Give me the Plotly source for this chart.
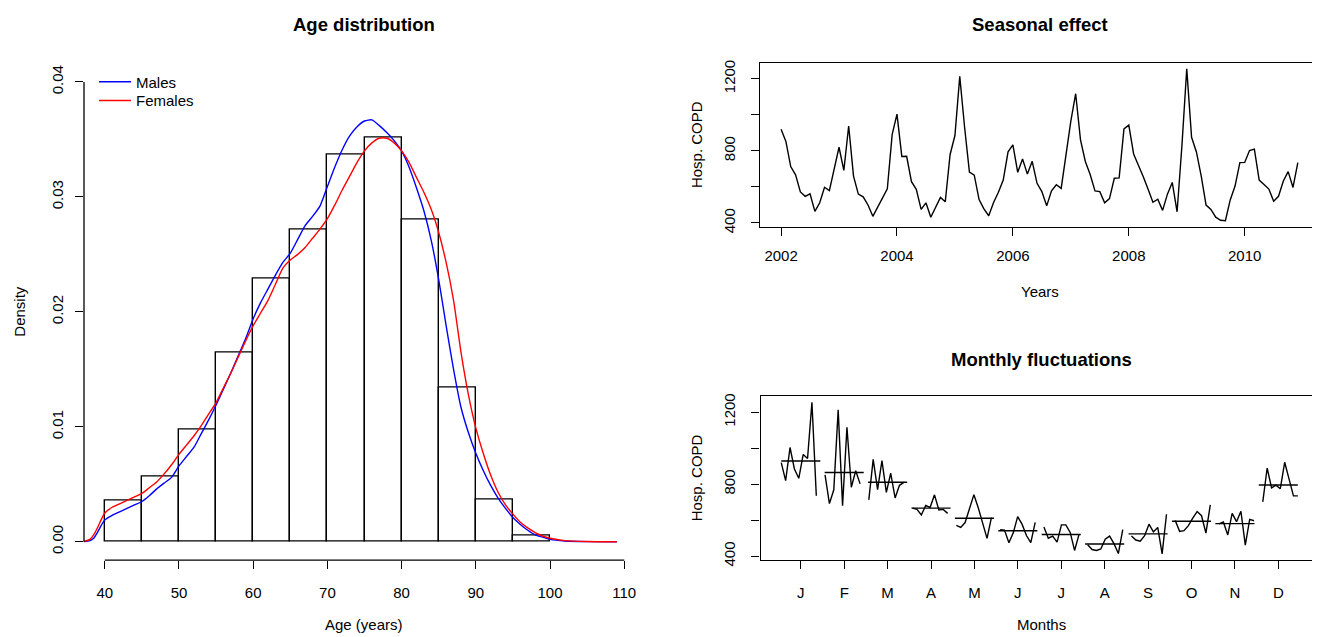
import plotly.graph_objects as go

# ---------------- Age distribution ----------------
bin_edges = [40, 45, 50, 55, 60, 65, 70, 75, 80, 85, 90, 95, 100]
bin_density = [0.0036, 0.0057, 0.0098, 0.0165, 0.0229, 0.0272,
               0.0337, 0.0352, 0.0280, 0.0134, 0.0037, 0.0005]

male_age = [37, 38, 38.5, 39, 39.5, 40, 41, 42, 43, 44, 45, 46, 47, 48, 49, 50,
            51, 52, 53, 54, 55, 56, 57, 58, 59, 60, 61, 62, 63, 64, 65, 66, 67,
            68, 69, 70, 71, 72, 73, 74, 75, 76, 77, 78, 79, 80, 81, 82, 83, 84,
            85, 86, 87, 88, 89, 90, 91, 92, 93, 94, 95, 96, 97, 98, 99, 100,
            102, 105, 109]
male_dens = [0, 0.0001, 0.0003, 0.0008, 0.0014, 0.0019, 0.0023, 0.0026, 0.0029,
             0.0032, 0.0035, 0.0040, 0.0046, 0.0051, 0.0056, 0.0066, 0.0074,
             0.0082, 0.0094, 0.0106, 0.0119, 0.0133, 0.0147, 0.0162, 0.0177,
             0.0194, 0.0208, 0.0220, 0.0232, 0.0243, 0.0251, 0.0263, 0.0275,
             0.0283, 0.0292, 0.0309, 0.0326, 0.0341, 0.0353, 0.0361, 0.0366,
             0.0367, 0.0362, 0.0356, 0.0349, 0.0340, 0.0326, 0.0308, 0.0288,
             0.0262, 0.0228, 0.0188, 0.0150, 0.0117, 0.0095, 0.0077, 0.0062,
             0.0049, 0.0038, 0.0029, 0.0021, 0.0015, 0.0010, 0.0006, 0.0004,
             0.0002, 0.00006, 0.00001, 0]

female_age = [37, 38, 38.5, 39, 39.5, 40, 41, 42, 43, 44, 45, 46, 47, 48, 49, 50,
              51, 52, 53, 54, 55, 56, 57, 58, 59, 60, 61, 62, 63, 64, 65, 66, 67,
              68, 69, 70, 71, 72, 73, 74, 75, 76, 77, 78, 79, 80, 81, 82, 83, 84,
              85, 86, 87, 88, 89, 90, 91, 92, 93, 94, 95, 96, 97, 98, 99, 100,
              102, 105, 109]
female_dens = [0, 0.0002, 0.0006, 0.0012, 0.0019, 0.0025, 0.0030, 0.0033, 0.0036,
               0.0039, 0.0042, 0.0047, 0.0052, 0.0059, 0.0067, 0.0076, 0.0084,
               0.0092, 0.0101, 0.0111, 0.0121, 0.0134, 0.0147, 0.0161, 0.0175,
               0.0188, 0.0199, 0.0210, 0.0224, 0.0238, 0.0245, 0.0250, 0.0256,
               0.0264, 0.0272, 0.0281, 0.0293, 0.0306, 0.0318, 0.0330, 0.0340,
               0.0347, 0.0351, 0.0351, 0.0347, 0.0340, 0.0330, 0.0317, 0.0304,
               0.0289, 0.0269, 0.0243, 0.0210, 0.0165, 0.0128, 0.0099, 0.0077,
               0.0058, 0.0043, 0.0032, 0.0024, 0.0017, 0.0012, 0.0008, 0.0005,
               0.0003, 0.0001, 0.00002, 0]

# ---------------- COPD hospitalisations, monthly 2002-2010 ----------------
years = [2002, 2003, 2004, 2005, 2006, 2007, 2008, 2009, 2010]
month_labels = ["J", "F", "M", "A", "M", "J", "J", "A", "S", "O", "N", "D"]
jan = [920, 820, 1004, 885, 833, 965, 943, 1255, 736]
feb = [852, 692, 769, 1213, 681, 1117, 783, 875, 802]
mar = [713, 938, 770, 931, 755, 861, 724, 794, 810]
apr = [667, 660, 629, 682, 671, 741, 657, 660, 638]
may = [572, 560, 587, 665, 742, 669, 587, 499, 614]
jun = [548, 545, 475, 530, 620, 578, 515, 475, 588]
jul = [562, 500, 512, 478, 574, 574, 532, 432, 520]
aug = [464, 437, 432, 440, 495, 512, 470, 415, 548]
sep = [512, 490, 484, 514, 578, 535, 560, 413, 633]
oct_ = [598, 538, 542, 570, 612, 648, 625, 528, 685]
nov = [580, 590, 518, 638, 592, 650, 462, 605, 597]
dec = [702, 890, 780, 795, 775, 922, 828, 735, 735]
months = [jan, feb, mar, apr, may, jun, jul, aug, sep, oct_, nov, dec]

W, H = 1320, 637
OFF = 8  # the page body adds an 8px margin around the figure
FONT = "Liberation Sans, Arial, Helvetica, sans-serif"


def px_x(p):
    return (p - OFF) / W


def px_y(p):
    return 1 - (p - OFF) / H


# assemble the monthly time series
t_series, v_series = [], []
for yi, yr in enumerate(years):
    for m in range(12):
        t_series.append(yr + m / 12)
        v_series.append(months[m][yi])

vmin, vmax = min(v_series), max(v_series)
pad = 0.04 * (vmax - vmin)
yrange_copd = [vmin - pad, vmax + pad]
t0, t1 = t_series[0], t_series[-1]
tpad = 0.04 * (t1 - t0)

fig = go.Figure()

# histogram bars
centers = [(bin_edges[i] + bin_edges[i + 1]) / 2 for i in range(len(bin_density))]
fig.add_trace(go.Bar(x=centers, y=bin_density, width=5, showlegend=False,
                     marker=dict(color="white", line=dict(color="black", width=1.4)),
                     xaxis="x", yaxis="y"))
fig.add_trace(go.Scatter(x=male_age, y=male_dens, mode="lines", name="Males",
                         line=dict(color="#0000ff", width=1.4, shape="spline", smoothing=0.6),
                         xaxis="x", yaxis="y", legend="legend"))
fig.add_trace(go.Scatter(x=female_age, y=female_dens, mode="lines", name="Females",
                         line=dict(color="#ff0000", width=1.4, shape="spline", smoothing=0.6),
                         xaxis="x", yaxis="y", legend="legend2"))

# seasonal time series
fig.add_trace(go.Scatter(x=t_series, y=v_series, mode="lines", showlegend=False,
                         line=dict(color="black", width=1.4), xaxis="x2", yaxis="y2"))

# month plot: each month's yearly sub-series plus its mean
mx, my, bx, by = [], [], [], []
for i, vals in enumerate(months, start=1):
    for yi, yr in enumerate(years):
        t = yr + (i - 1) / 12
        mx.append(i - 0.45 + 0.9 * (t - t0) / (t1 - t0))
        my.append(vals[yi])
    mx.append(None)
    my.append(None)
    mean = sum(vals) / len(vals)
    bx += [i - 0.45, i + 0.45, None]
    by += [mean, mean, None]
fig.add_trace(go.Scatter(x=bx, y=by, mode="lines", showlegend=False,
                         line=dict(color="black", width=1.4), xaxis="x3", yaxis="y3"))
fig.add_trace(go.Scatter(x=mx, y=my, mode="lines", showlegend=False,
                         line=dict(color="black", width=1.4), xaxis="x3", yaxis="y3"))

tickfont = dict(family=FONT, size=15, color="black")
common = dict(ticks="outside", ticklen=8, tickwidth=1.2, tickcolor="black",
              showgrid=False, zeroline=False, tickfont=tickfont)

box = dict(showline=True, mirror=True, linecolor="black", linewidth=1.3)
legend_style = dict(xanchor="left", yanchor="middle", bgcolor="rgba(0,0,0,0)",
                    font=dict(family=FONT, size=15, color="black"), itemwidth=32)

fig.update_layout(
    width=W, height=H, autosize=False,
    margin=dict(l=0, r=0, t=0, b=0),
    paper_bgcolor="white", plot_bgcolor="white",
    font=dict(family=FONT, size=15, color="black"),
    bargap=0,
    xaxis=dict(domain=[px_x(84), px_x(645)], range=[37.2, 112.8],
               tickvals=[40, 50, 60, 70, 80, 90, 100, 110], showline=False,
               ticklabelstandoff=11, anchor="y", **common),
    yaxis=dict(domain=[px_y(565), px_y(61.3)], range=[-0.0016, 0.0416],
               tickvals=[0, 0.01, 0.02, 0.03, 0.04], tickformat=".2f",
               tickangle=-90, showline=False, ticklabelstandoff=6, anchor="x", **common),
    xaxis2=dict(domain=[px_x(760.4), px_x(1318.5)], range=[t0 - tpad, t1 + tpad],
                tickvals=[2002, 2004, 2006, 2008, 2010], anchor="y2",
                ticklabelstandoff=7, **box, **common),
    yaxis2=dict(domain=[px_y(226.8), px_y(60.5)], range=yrange_copd,
                tickvals=[400, 600, 800, 1000, 1200],
                ticktext=["400", "", "800", "", "1200"], tickangle=-90,
                anchor="x2", ticklabelstandoff=10, **box, **common),
    xaxis3=dict(domain=[px_x(760.6), px_x(1318.5)], range=[0.074, 12.926],
                tickvals=list(range(1, 13)), ticktext=month_labels, anchor="y3",
                ticklabelstandoff=11, **box, **common),
    yaxis3=dict(domain=[px_y(564.8), px_y(398.8)], range=yrange_copd,
                tickvals=[400, 600, 800, 1000, 1200],
                ticktext=["400", "", "800", "", "1200"], tickangle=-90,
                anchor="x3", ticklabelstandoff=10, **box, **common),
    legend=dict(x=px_x(94), y=px_y(80), **legend_style),
    legend2=dict(x=px_x(94), y=px_y(99), **legend_style),
)

# detached R-style axis lines for the histogram
fig.add_shape(type="line", xref="x domain", yref="y", x0=0, x1=0, y0=0, y1=0.04,
              line=dict(color="black", width=1.3))
fig.add_shape(type="line", xref="x", yref="y domain", x0=40, x1=110, y0=0, y1=0,
              line=dict(color="black", width=1.3))


def text(s, x, y, size=15, bold=False, angle=0):
    fig.add_annotation(text=f"<b>{s}</b>" if bold else s, x=px_x(x), y=px_y(y),
                       xref="paper", yref="paper", showarrow=False, textangle=angle,
                       xanchor="center", yanchor="middle",
                       font=dict(family=FONT, size=size, color="black"))


text("Age distribution", 364, 22, 18.5, True)
text("Seasonal effect", 1040, 22, 18.5, True)
text("Monthly fluctuations", 1041, 362, 18.5, True)
text("Age (years)", 364, 630)
text("Density", 20, 313, angle=-90)
text("Years", 1040, 293)
text("Months", 1041, 630)
text("Hosp. COPD", 696, 144, angle=-90)
text("Hosp. COPD", 696, 482, angle=-90)

fig.write_html("out.html")
